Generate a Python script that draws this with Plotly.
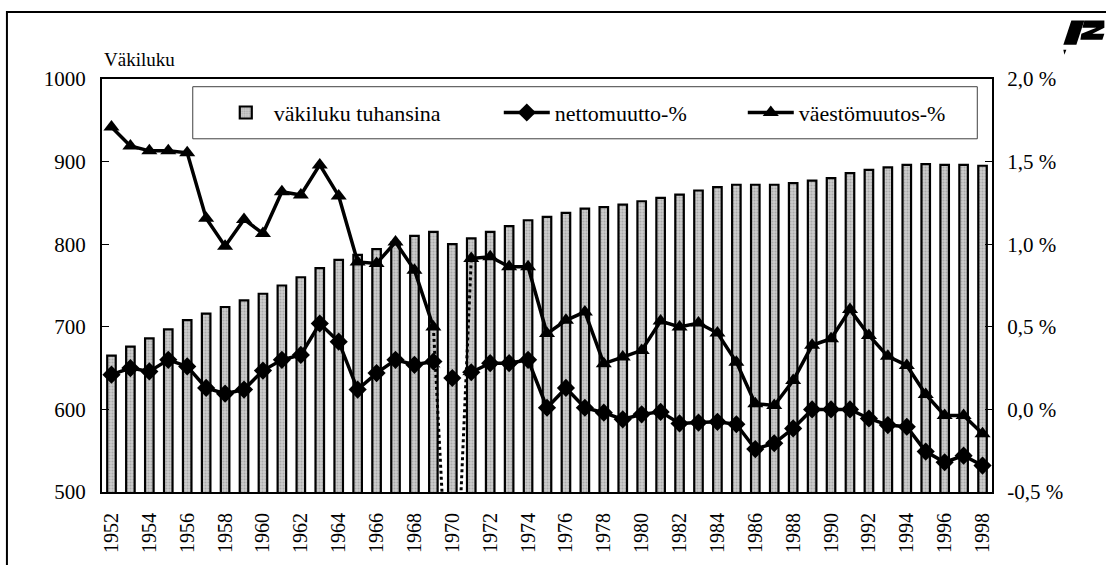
import plotly.graph_objects as go

# ---------------- data ----------------
years = list(range(1952, 1999))

vakiluku = [665, 676, 686, 697, 708, 716, 724, 732, 740, 750,
            760, 771, 781, 787, 794, 802, 810, 815, 800, 807,
            815, 822, 829, 833, 838, 843, 845, 848, 852, 856,
            860, 865, 869, 872, 872, 872, 874, 877, 880, 886,
            890, 893, 896, 897, 896, 896, 895]

nettomuutto = [0.21, 0.25, 0.23, 0.30, 0.26, 0.13, 0.095, 0.12, 0.235, 0.30,
               0.33, 0.52, 0.41, 0.12, 0.22, 0.30, 0.27, 0.29, 0.19, 0.225,
               0.28, 0.28, 0.30, 0.01, 0.13, 0.01, -0.02, -0.06, -0.03, -0.015,
               -0.085, -0.08, -0.075, -0.09, -0.24, -0.205, -0.115, 0.0, 0.0, 0.0,
               -0.055, -0.095, -0.105, -0.255, -0.32, -0.28, -0.34]

vaestomuutos = [1.71, 1.595, 1.565, 1.565, 1.553, 1.157, 0.988, 1.15, 1.065, 1.318,
                1.298, 1.48, 1.292, 0.893, 0.883, 1.013, 0.843, 0.499, -1.7, 0.914,
                0.924, 0.863, 0.863, 0.459, 0.539, 0.59, 0.277, 0.317, 0.357, 0.535,
                0.499, 0.523, 0.462, 0.286, 0.034, 0.024, 0.175, 0.388, 0.428, 0.604,
                0.448, 0.321, 0.266, 0.09, -0.037, -0.037, -0.148]

gap_year = 1970
left_ticks = [500, 600, 700, 800, 900, 1000]
right_ticks = [-0.5, 0.0, 0.5, 1.0, 1.5, 2.0]
right_ticktext = ["-0,5 %", "0,0 %", "0,5 %", "1,0 %", "1,5 %", "2,0 %"]
x_ticks = years[::2]

names = ["väkiluku tuhansina", "nettomuutto-%", "väestömuutos-%"]
y_title = "Väkiluku"

# ---------------- layout geometry ----------------
W, H = 1106, 565
PL, PR, PT, PB = 102.3, 991.7, 79.3, 491.7   # plot area in pixels


def px(x):
    return (x - PL) / (PR - PL)


def py(y):
    return (PB - y) / (PB - PT)


def path(points):
    return "M " + " L ".join(f"{px(a):.5f},{py(b):.5f}" for a, b in points) + " Z"


FONT = "Liberation Serif, DejaVu Serif, serif"
gi = years.index(gap_year)

main_net = [None if y == gap_year else v for y, v in zip(years, nettomuutto)]
main_vae = [None if y == gap_year else v for y, v in zip(years, vaestomuutos)]

fig = go.Figure()

fig.add_trace(go.Bar(
    x=years, y=vakiluku, name=names[0], yaxis="y",
    marker=dict(color="#bdbdbd", line=dict(color="black", width=2.2),
                pattern=dict(shape=".", fgcolor="#858585", bgcolor="#cdcdcd",
                             size=3, solidity=0.4)),
    legendwidth=220,
))

fig.add_trace(go.Scatter(
    x=years, y=main_net, name=names[1], yaxis="y2", mode="lines+markers",
    line=dict(color="black", width=3.5),
    marker=dict(symbol="diamond", size=14, color="black"),
    legendwidth=183,
))

fig.add_trace(go.Scatter(
    x=years, y=main_vae, name=names[2], yaxis="y2", mode="lines+markers",
    line=dict(color="black", width=3.5),
    marker=dict(symbol="triangle-up", size=14, color="black"),
    legendwidth=150,
))

# thin dashed link for net migration around the gap year
fig.add_trace(go.Scatter(
    x=years[gi - 1:gi + 2], y=nettomuutto[gi - 1:gi + 2], yaxis="y2",
    mode="lines", showlegend=False,
    line=dict(color="black", width=1, dash="dash"),
))
fig.add_trace(go.Scatter(
    x=[years[gi]], y=[nettomuutto[gi]], yaxis="y2",
    mode="markers", showlegend=False,
    marker=dict(symbol="diamond", size=14, color="black"),
))

# dotted link for population change around the gap year
fig.add_trace(go.Scatter(
    x=years[gi - 1:gi + 2], y=vaestomuutos[gi - 1:gi + 2], yaxis="y2",
    mode="lines", showlegend=False,
    line=dict(color="black", width=3, dash="dot"),
))

shapes = [
    # outer frame
    dict(type="rect", xref="paper", yref="paper",
         x0=px(7.3), x1=px(1112), y0=py(575), y1=py(12.3),
         line=dict(color="black", width=2), fillcolor="rgba(0,0,0,0)", layer="below"),
    # legend box
    dict(type="rect", xref="paper", yref="paper",
         x0=px(193), x1=px(977), y0=py(139), y1=py(87),
         line=dict(color="#404040", width=1), fillcolor="white", layer="above"),
    # logo
    dict(type="path", xref="paper", yref="paper",
         path=path([(1071, 21), (1084, 21), (1076, 45), (1063, 45)]),
         fillcolor="black", line=dict(width=0)),
    dict(type="path", xref="paper", yref="paper",
         path=path([(1084, 21), (1104, 21), (1104, 28), (1092, 34), (1104, 34),
                    (1102, 40), (1080, 40), (1081, 34), (1096, 28), (1082, 28)]),
         fillcolor="black", line=dict(width=0)),
    dict(type="path", xref="paper", yref="paper",
         path=path([(1063, 50), (1066, 50), (1064, 55)]),
         fillcolor="black", line=dict(width=0)),
]

fig.update_layout(
    width=W, height=H,
    margin=dict(l=PL, r=W - PR, t=PT, b=H - PB, pad=0),
    paper_bgcolor="white", plot_bgcolor="white",
    font=dict(family=FONT, color="black", size=20),
    bargap=0.55,
    showlegend=True,
    legend=dict(orientation="h", x=px(218), xanchor="left",
                y=py(92), yanchor="top",
                bgcolor="rgba(0,0,0,0)", borderwidth=0,
                itemwidth=46, font=dict(family=FONT, size=22, color="black"),
                traceorder="normal"),
    xaxis=dict(range=[1951.5, 1998.5], tickmode="array", tickvals=x_ticks,
               ticktext=[str(v) for v in x_ticks], tickangle=-90,
               showline=True, linecolor="black", linewidth=2, mirror=True,
               showgrid=False, zeroline=False, ticks="",
               ticklabelstandoff=11, tickfont=dict(family=FONT, size=20)),
    yaxis=dict(range=[500, 1000], tickvals=left_ticks,
               showline=True, linecolor="black", linewidth=2, mirror=False,
               showgrid=False, zeroline=False, ticks="inside", ticklen=7,
               tickcolor="black", tickwidth=1, ticklabelstandoff=10,
               tickfont=dict(family=FONT, size=21)),
    yaxis2=dict(range=[-0.5, 2.0], overlaying="y", side="right",
                tickvals=right_ticks, ticktext=right_ticktext,
                showline=True, linecolor="black", linewidth=2,
                showgrid=False, zeroline=False, ticks="inside", ticklen=7,
                tickcolor="black", tickwidth=1, ticklabelstandoff=9,
                tickfont=dict(family=FONT, size=21)),
    shapes=shapes,
    annotations=[dict(text=y_title, xref="paper", yref="paper",
                      x=px(102), y=py(60), xanchor="left", yanchor="middle",
                      showarrow=False, font=dict(family=FONT, size=19))],
)

fig.write_html("out.html", config={"displayModeBar": False},
               post_script="document.body.style.margin='0';")
